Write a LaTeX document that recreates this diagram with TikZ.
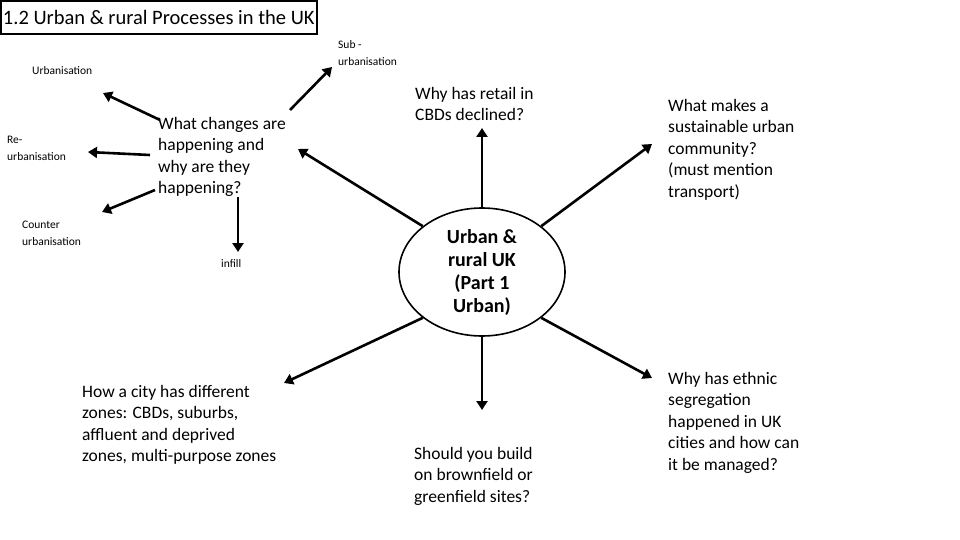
\documentclass[tikz,border=0pt]{standalone}
\usepackage{fontspec}
\setmainfont{Carlito}
\usetikzlibrary{arrows.meta,shapes.geometric}
\begin{document}
\begin{tikzpicture}[x=1pt,y=-1pt,
  arr/.style={line width=2.6pt,-{Triangle[length=9pt,width=11pt]}},
  big/.style={font=\fontsize{17.5}{21.5}\selectfont,align=left,anchor=north west,inner sep=0pt},
  small/.style={font=\fontsize{11.5}{17}\selectfont,align=left,anchor=north west,inner sep=0pt}]
\useasboundingbox (0,0) rectangle (960,540);
\fill[white] (0,0) rectangle (960,540);
\node[draw,line width=1.6pt,anchor=north west,minimum width=316pt,minimum height=33pt,inner sep=2pt,font=\fontsize{20.5}{22}\selectfont] (title) at (0,0) {1.2 Urban \& rural Processes in the UK};
\node[draw,line width=1.6pt,ellipse,minimum width=166pt,minimum height=128pt,font=\bfseries\fontsize{20}{23}\selectfont,align=center,inner sep=0pt] (c) at (482,272) {Urban \&\\rural UK\\(Part 1\\Urban)};
\node[small] (urb) at (32,66) {Urbanisation};
\node[small] (reurb) at (7,136) {Re-\\urbanisation};
\node[small] (counter) at (22,221) {Counter\\urbanisation};
\node[small] (infill) at (221,259) {infill};
\node[small] (sub) at (338,40) {Sub -\\urbanisation};
\node[big] (what) at (158,117) {What changes are\\happening and\\why are they\\happening?};
\node[big] (retail) at (415,87) {Why has retail in\\CBDs declined?};
\node[big] (sust) at (668,99) {What makes a\\sustainable urban\\community?\\(must mention\\transport)};
\node[big] (zones) at (82,385) {How a city has different\\zones: CBDs, suburbs,\\affluent and deprived\\zones, multi-purpose zones};
\node[big] (brown) at (414,447) {Should you build\\on brownfield or\\greenfield sites?};
\node[big] (ethnic) at (668,372) {Why has ethnic\\segregation\\happened in UK\\cities and how can\\it be managed?};
\coordinate (a1) at (482,128);
\coordinate (a2) at (652,144);
\coordinate (a3) at (652,378);
\coordinate (a4) at (482,410);
\coordinate (a5) at (284,383);
\coordinate (a6) at (298,149);
\draw[arr] (c.north) -- (a1);
\draw[arr] (c.north east) -- (a2);
\draw[arr] (c.south east) -- (a3);
\draw[arr] (c.south) -- (a4);
\draw[arr] (c.south west) -- (a5);
\draw[arr] (c.north west) -- (a6);
\coordinate (w1) at (160,120);
\coordinate (w2) at (150,155);
\coordinate (w3) at (155,190);
\coordinate (w4) at (238,197);
\coordinate (w5) at (290,110);
\draw[arr] (w1) -- (103,93);
\draw[arr] (w2) -- (88,152);
\draw[arr] (w3) -- (102,212);
\draw[arr] (w4) -- (238,252);
\draw[arr] (w5) -- (332,67);
\end{tikzpicture}
\end{document}
